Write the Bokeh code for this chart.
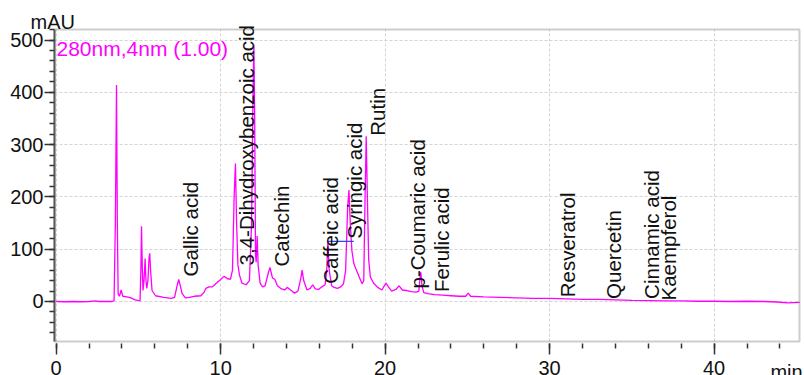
import math
from bokeh.plotting import figure
from bokeh.models import (ColumnDataSource, LabelSet, Label, SingleIntervalTicker,
                          Range1d, BoxAnnotation)
from bokeh.core.properties import value
from bokeh.embed import file_html
from bokeh.resources import INLINE

# ---------------- data ----------------
time_min = [0.0, 0.5, 1.0, 1.5, 2.0, 2.4, 2.6, 3.0, 3.4, 3.52, 3.60, 3.67, 3.72, 3.77,
            3.85, 3.95, 4.05, 4.3, 4.55, 4.8, 5.1, 5.15, 5.19, 5.24, 5.28, 5.34, 5.41,
            5.46, 5.51, 5.58, 5.65, 5.69, 5.74, 5.83, 6.04, 6.54, 7.0, 7.2, 7.35, 7.45,
            7.55, 7.66, 7.86, 8.1, 8.4, 8.8, 9.0, 9.1, 9.3, 9.5, 9.7, 10.0, 10.2, 10.45,
            10.6, 10.72, 10.82, 10.9, 10.97, 11.05, 11.15, 11.3, 11.55, 11.75, 11.88,
            11.97, 12.02, 12.07, 12.12, 12.16, 12.22, 12.28, 12.4, 12.55, 12.7, 12.9,
            13.0, 13.15, 13.3, 13.45, 13.7, 13.9, 14.05, 14.25, 14.5, 14.7, 14.88, 14.95,
            15.05, 15.25, 15.45, 15.6, 15.75, 15.95, 16.15, 16.35, 16.45, 16.52, 16.6,
            16.75, 16.9, 17.1, 17.3, 17.47, 17.6, 17.72, 17.8, 17.88, 17.98, 18.1, 18.25,
            18.45, 18.6, 18.7, 18.78, 18.85, 18.92, 19.0, 19.1, 19.3, 19.55, 19.8, 20.05,
            20.2, 20.4, 20.65, 20.85, 21.05, 21.3, 21.6, 21.9, 22.05, 22.12, 22.17, 22.24,
            22.35, 22.6, 23.0, 23.5, 24.0, 24.5, 24.9, 25.05, 25.2, 26.0, 27.0, 28.0,
            29.0, 30.0, 31.0, 32.0, 33.0, 34.0, 35.0, 36.0, 37.0, 38.0, 39.0, 40.0, 41.0,
            42.0, 43.0, 43.8, 44.5, 45.2]
absorbance_mau = [0, -0.5, 0, -0.5, 0, 1, 0, 0, 0, 1, 150, 414, 150, 14,
                  10, 22, 10, 9, 7, 3, 1, 60, 144, 60, 21, 40, 82,
                  40, 25, 40, 85, 92, 60, 21, 11, 8, 6, 8, 30, 42,
                  30, 15, 7, 8, 10, 11, 18, 25, 28, 28, 34, 42, 48, 43,
                  43, 60, 200, 264, 150, 70, 50, 35, 32, 40, 150,
                  400, 490, 350, 90, 75, 125, 70, 35, 28, 30, 55,
                  65, 45, 42, 30, 24, 22, 27, 22, 16, 20, 45, 60,
                  40, 22, 25, 32, 24, 23, 28, 32, 60, 115, 60,
                  30, 27, 25, 28, 34, 60, 180, 213, 150, 97, 72, 60,
                  45, 34, 40, 200, 316, 200, 80, 47, 35, 27, 22, 35,
                  28, 20, 23, 30, 22, 21, 19, 18, 20, 45, 56, 30,
                  17, 15, 13, 12, 11, 10, 10, 16, 10, 9, 8, 7,
                  6, 6, 5, 4, 4, 3, 2, 1.5, 1, 1, 0.5, 0.5, 0,
                  0.5, 0, -1, -2.5, -1.5]

peak_names = ["Gallic acid", "3,4-Dihydroxybenzoic acid", "Catechin", "Caffeic acid",
              "Syringic acid", "Rutin", "p-Coumaric acid", "Ferulic acid",
              "Resveratrol", "Quercetin", "Cinnamic acid", "Kaempferol"]
peak_label_time = [8.16, 11.57, 13.67, 16.67, 18.13, 19.53, 21.97, 23.44,
                   31.11, 33.88, 36.21, 37.22]
peak_label_base = [48, 69, 67, 34, 120, 317, 25, 18, 8, 5, 5, 2]

# integration marker (blue baseline segment)
marker_time = [16.47, 18.09]
marker_mau = [115, 115]

x_ticks_interval = 10
y_ticks_interval = 100

# ---------------- layout ----------------
W, H = 804, 375
# plotted box (axis limits) and its pixel margins inside the canvas
X_MIN, X_MAX = -0.10, 45.19
Y_MIN, Y_MAX = -76.5, 520.1
M_LEFT, M_RIGHT, M_TOP, M_BOTTOM = 54, 5, 29, 34
SX = (W - M_LEFT - M_RIGHT) / (X_MAX - X_MIN)     # px per minute
SY = (H - M_TOP - M_BOTTOM) / (Y_MAX - Y_MIN)     # px per mAU
X_LEFT, X_RIGHT = X_MIN - M_LEFT / SX, X_MAX + M_RIGHT / SX
Y_LOW, Y_TOP = Y_MIN - M_BOTTOM / SY, Y_MAX + M_TOP / SY

FONT = "Liberation Sans"
FS = "20px"
INK = "#111111"
FRAME_COLOR = "#5a5a5a"
TICK_COLOR = "#333333"

p = figure(width=W, height=H, output_backend="svg", toolbar_location=None,
           title=None,
           x_range=Range1d(X_LEFT, X_RIGHT), y_range=Range1d(Y_LOW, Y_TOP),
           min_border_left=0, min_border_right=0, min_border_top=0,
           min_border_bottom=0)
p.background_fill_color = "white"
p.border_fill_color = "white"
p.outline_line_color = None

# border of the plotted box
p.add_layout(BoxAnnotation(left=X_MIN, right=X_MAX, bottom=Y_MIN, top=Y_MAX,
                           fill_alpha=0, line_color=FRAME_COLOR, line_width=2))

# x axis drawn along the bottom edge of the plotted box
xa = p.xaxis[0]
xa.fixed_location = Y_MIN
xa.bounds = (X_MIN, X_MAX)
xa.ticker = SingleIntervalTicker(interval=x_ticks_interval, num_minor_ticks=5)
xa.axis_line_color = None
xa.major_tick_in = -2
xa.major_tick_out = 13
xa.minor_tick_in = -2
xa.minor_tick_out = 7
xa.major_tick_line_color = TICK_COLOR
xa.minor_tick_line_color = TICK_COLOR
xa.major_tick_line_width = 1.5
xa.minor_tick_line_width = 1.5
xa.major_label_standoff = 6
xa.major_label_text_font = FONT
xa.major_label_text_font_size = FS
xa.major_label_text_color = INK

# y axis drawn along the left edge of the plotted box
ya = p.yaxis[0]
ya.fixed_location = X_MIN
ya.bounds = (Y_MIN, Y_MAX)
ya.ticker = SingleIntervalTicker(interval=y_ticks_interval, num_minor_ticks=5)
ya.axis_line_color = FRAME_COLOR
ya.axis_line_width = 2
ya.major_tick_in = 0
ya.major_tick_out = 10
ya.minor_tick_in = 0
ya.minor_tick_out = 5
ya.major_tick_line_color = TICK_COLOR
ya.minor_tick_line_color = TICK_COLOR
ya.major_tick_line_width = 1.5
ya.minor_tick_line_width = 1.5
ya.major_label_standoff = 1
ya.major_label_text_font = FONT
ya.major_label_text_font_size = FS
ya.major_label_text_color = INK

xg, yg = p.xgrid[0], p.ygrid[0]
for g in (xg, yg):
    g.grid_line_color = "#d4d4d4"
    g.grid_line_dash = "3 2"
    g.grid_line_width = 1
xg.ticker = xa.ticker
yg.ticker = ya.ticker
xg.bounds = (X_MIN, X_MAX)
yg.bounds = (Y_MIN, Y_MAX)
if "cross_bounds" in xg.properties():
    xg.cross_bounds = (Y_MIN, Y_MAX)
    yg.cross_bounds = (X_MIN, X_MAX)

# trace
src = ColumnDataSource(dict(t=time_min, a=absorbance_mau))
p.line("t", "a", source=src, line_color="#ff00ff", line_width=1.3)

# blue integration marker
p.line(marker_time, marker_mau, line_color="#3344ee", line_width=1.3)

# peak labels
lab_src = ColumnDataSource(dict(t=peak_label_time, b=peak_label_base, name=peak_names))
p.add_layout(LabelSet(x="t", y="b", text="name", source=lab_src, angle=math.pi / 2,
                      text_align="left", text_baseline="middle",
                      text_font=value(FONT), text_font_size=value("20.5px"),
                      text_color=value(INK)))

# detector label
p.add_layout(Label(x=0.02, y=483, text="280nm,4nm (1.00)", text_font=FONT,
                   text_font_size="21px", text_color="#ff00ff",
                   text_baseline="alphabetic"))

# unit labels: "mAU" above the y axis, "min" at the right end of the tick-label row
p.add_layout(Label(x=X_MIN - 24 / SX, y=Y_MAX + 8 / SY, text="mAU", text_font=FONT,
                   text_font_size=FS, text_color=INK, text_baseline="alphabetic"))
p.add_layout(Label(x=43.42, y=Y_MIN - 59, text="min", text_font=FONT,
                   text_font_size=FS, text_color=INK, text_baseline="alphabetic"))

open("out.html", "w").write(file_html(p, INLINE))
